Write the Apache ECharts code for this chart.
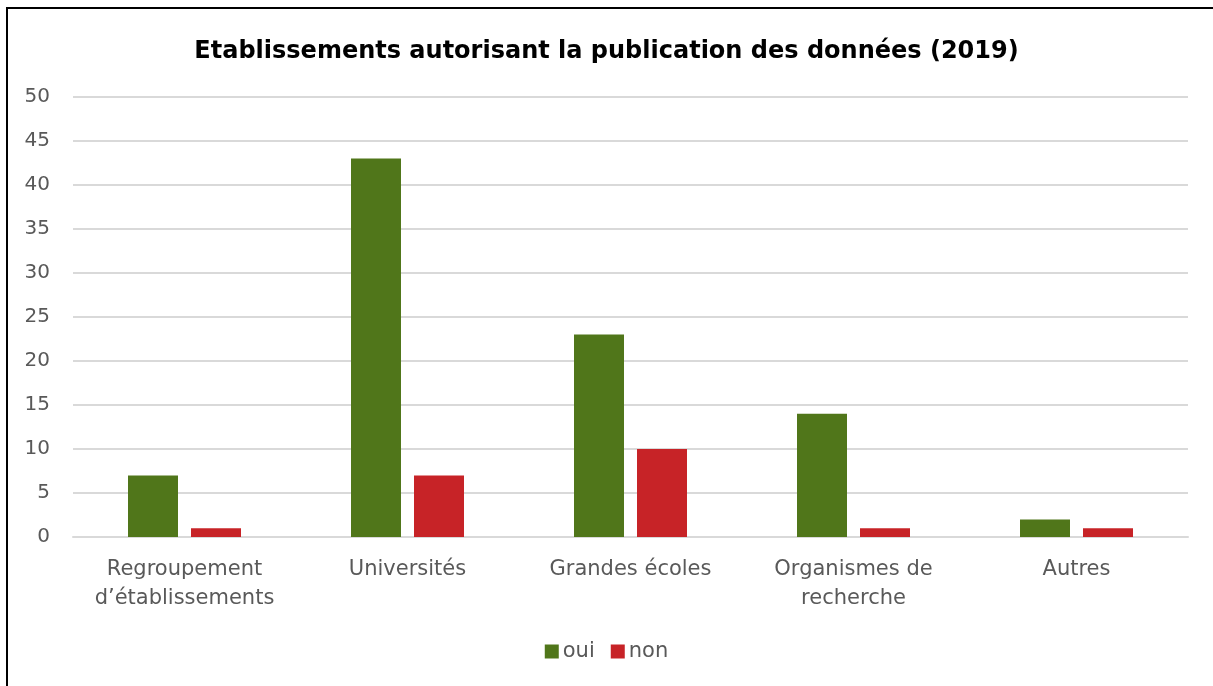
<!DOCTYPE html>
<html>
<head>
<meta charset="utf-8">
<script src="https://cdn.jsdelivr.net/npm/echarts@6/dist/echarts.min.js"></script>
<style>
  html, body { margin: 0; padding: 0; background: #fff; }
  #frame { position: absolute; left: 6px; top: 7px; width: 1240px; height: 720px; border: 2px solid #000; box-sizing: border-box; }
  #chart { position: absolute; left: 0; top: 0; width: 1213px; height: 686px; }
</style>
</head>
<body>
<div id="frame"></div>
<div id="chart"></div>
<script>
  const categories = ['Regroupement\nd\u2019établissements', 'Universités', 'Grandes écoles', 'Organismes de\nrecherche', 'Autres']
  const oui = [7, 43, 23, 14, 2]
  const non = [1, 7, 10, 1, 1]

  const chart = echarts.init(document.getElementById('chart'))
  const font = '"DejaVu Sans", sans-serif'
  chart.setOption({
    title: {
      text: 'Etablissements autorisant la publication des données (2019)',
      left: 'center',
      top: 35,
      textStyle: { fontFamily: font, fontSize: 24, fontWeight: 'bold', color: '#000' },
    },
    legend: {
      data: ['oui', 'non'],
      bottom: 19,
      left: 'center',
      itemWidth: 14,
      itemHeight: 14,
      itemGap: 16,
      icon: 'rect',
      textStyle: { fontFamily: font, fontSize: 21, color: '#595959', padding: [0, 0, 0, -1] },
    },
    grid: { left: 73, right: 25, top: 97, bottom: 149 },
    xAxis: {
      type: 'category',
      data: categories,
      axisTick: { show: false },
      axisLine: { lineStyle: { color: '#d9d9d9', width: 2 } },
      axisLabel: { interval: 0, fontFamily: font, fontSize: 21, color: '#595959', margin: 18, lineHeight: 29 },
    },
    yAxis: {
      type: 'value',
      min: 0,
      max: 50,
      interval: 5,
      axisLine: { show: false },
      axisTick: { show: false },
      splitLine: { lineStyle: { color: '#d9d9d9', width: 2 } },
      axisLabel: { fontFamily: font, fontSize: 20, color: '#595959', margin: 23 },
    },
    series: [
      { name: 'oui', type: 'bar', data: oui, barWidth: 50, barGap: '26%', itemStyle: { color: '#50761a' } },
      { name: 'non', type: 'bar', data: non, barWidth: 50, itemStyle: { color: '#c72327' } },
    ],
  })
</script>
</body>
</html>
